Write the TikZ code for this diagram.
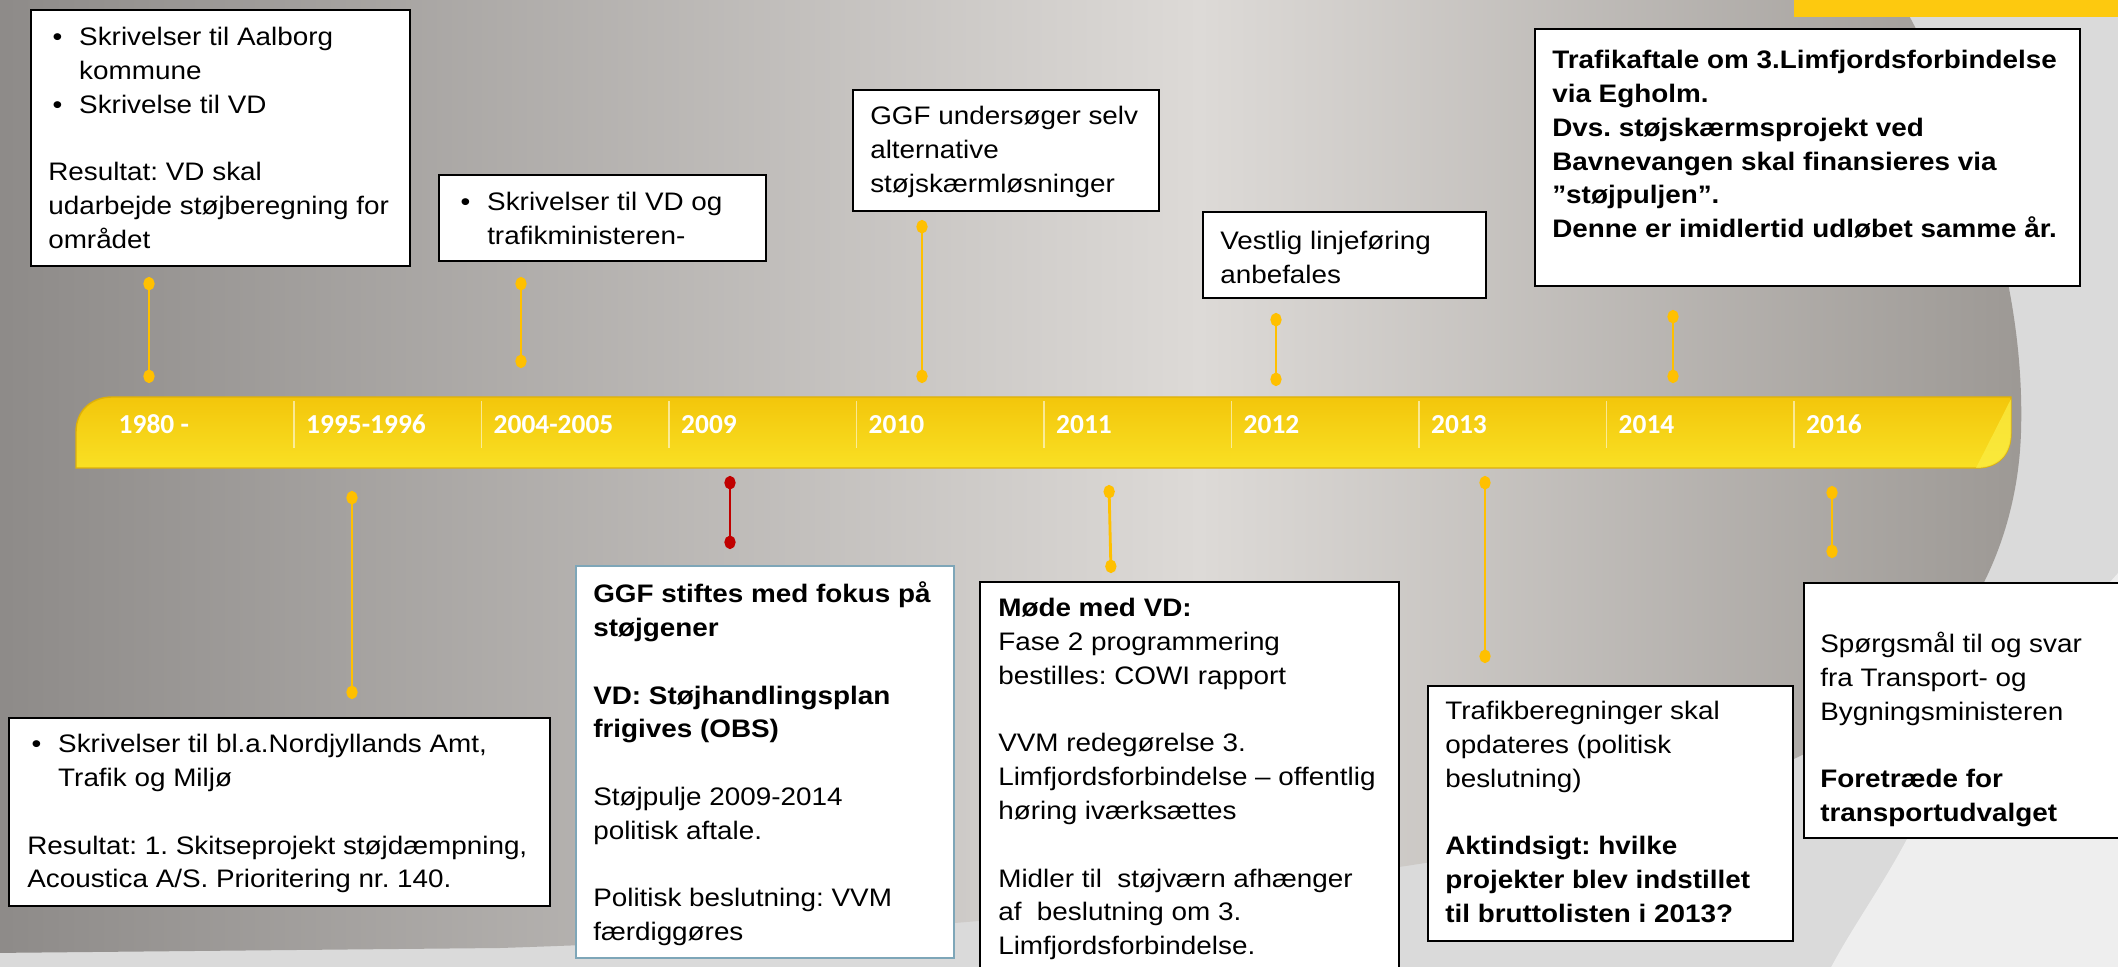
\documentclass[tikz,border=0pt]{standalone}
\usepackage{fontspec}
\setmainfont{Liberation Sans}
\newfontfamily\cardfont{Liberation Sans}[FakeStretch=1.1]
\newfontfamily\yearfont{Carlito}
\usetikzlibrary{arrows.meta,fit}
\frenchspacing

\definecolor{bgout}{HTML}{DADADA}
\definecolor{bglight}{HTML}{EEEEEE}
\definecolor{bgdark}{HTML}{8D8A88}
\definecolor{bgmid}{HTML}{DDDAD7}
\definecolor{bgedge}{HTML}{9C9894}
\definecolor{topgold}{HTML}{FDC90F}
\definecolor{bartop}{HTML}{F3C60B}
\definecolor{barbot}{HTML}{F9E024}
\definecolor{baredge}{HTML}{DDB00A}
\definecolor{barlight}{HTML}{FBEE45}
\definecolor{stemgold}{HTML}{FFC000}
\definecolor{stemred}{HTML}{C00000}
\definecolor{cardblue}{HTML}{7EA6B8}

\newcommand\bulpt{\makebox[8.8pt][l]{\hspace{1.2pt}•}}
\newcommand\bulind{\hspace*{8.8pt}}

\tikzset{
  card/.style={draw=black, line width=0.8pt, fill=white, inner sep=0pt},
  bluecard/.style={card, draw=cardblue},
  cardtext/.style={anchor=north west, inner sep=0pt, align=left,
    font=\cardfont\fontsize{7.2}{9.6}\selectfont},
  boldtext/.style={cardtext, font=\cardfont\fontsize{7.2}{9.6}\selectfont\bfseries},
  stem/.style={draw=stemgold, line width=0.8pt,
    {Circle[length=3.8pt,width=3.2pt]}-{Circle[length=3.8pt,width=3.2pt]}},
  redstem/.style={stem, draw=stemred},
  yearlbl/.style={anchor=base west, inner sep=0pt, text=white,
    font=\yearfont\bfseries\fontsize{7.8}{9}\selectfont},
  sep/.style={draw=white, draw opacity=0.55, line width=0.4pt}
}

\begin{document}
\begin{tikzpicture}[x=0.01cm, y=-0.01cm]
    \useasboundingbox (0,0) rectangle (2118,967);

    % Baggrund
    \fill[bgout] (0,0) rectangle (2118,967);
    \fill[bglight] (2130,560) .. controls (2020,680) and (1940,780) .. (1907,839)
        .. controls (1880,890) and (1850,930) .. (1827,975) -- (2130,975) -- cycle;
    \begin{scope}
        \clip (-10,-10) -- (1895,-10) .. controls (1985,150) and (2025,300) .. (2021,432)
            .. controls (2017,560) and (1950,690) .. (1785,763)
            .. controls (1620,830) and (1480,855) .. (1399,867)
            .. controls (1200,905) and (900,935) .. (500,948) -- (-10,953) -- cycle;
        \shade[left color=bgdark, right color=bgmid] (-10,-10) rectangle (1200,980);
        \shade[left color=bgmid, right color=bgedge] (1199,-10) rectangle (2030,980);
    \end{scope}
    \fill[topgold] (1794,0) rectangle (2118,17);

    % Tidslinje
    \shadedraw[top color=bartop, bottom color=barbot, draw=baredge, line width=0.4pt]
        (76,468) -- (76,432) .. controls (76,410) and (92,397) .. (112,397) -- (2011,397)
        -- (2011,433) .. controls (2011,455) and (1998,468) .. (1976,468) -- cycle;
    \fill[barlight, opacity=0.7] (2011,399) -- (2011,433) .. controls (2011,455) and (1998,468)
        .. (1976,468) -- cycle;
    \foreach \k in {0,...,8}
        \draw[sep] ({294+187.5*\k},401) -- ({294+187.5*\k},448);
    \foreach \yr [count=\i from 0] in {1980 -,1995-1996,2004-2005,2009,2010,2011,2012,2013,2014,2016}
        \node[yearlbl] (yr\i) at ({118+187.5*\i},434) {\yr};

    % Stilke
    \foreach \n/\xa/\ya/\xb/\yb in {1980/149/277/149/383, 2004/521/277/521/368,
        2010/922/220/922/383, 2012/1276/313/1276/386, 2014/1673/310/1673/383,
        1995/352/491/352/699, 2011/1109/485/1111/573, 2013/1485/476/1485/663,
        2016/1832/486/1832/558} {
        \coordinate (s\n a) at (\xa,\ya);
        \coordinate (s\n b) at (\xb,\yb);
        \draw[stem] (s\n a) -- (s\n b);
    }
    \coordinate (s2009a) at (730,476);
    \coordinate (s2009b) at (730,549);
    \draw[redstem] (s2009a) -- (s2009b);

    % Bokse over linjen
    \node[card, fit={(31,10) (410,266)}] (c1980) {};
    \node[cardtext] (t1980) at ([shift={(18,13)}]c1980.north west) {
        \strut\bulpt Skrivelser til Aalborg\\
        \bulind kommune\\
        \bulpt Skrivelse til VD\\[9.6pt]
        Resultat: VD skal\\
        udarbejde støjberegning for\\
        området
    };

    \node[card, fit={(439,175) (766,261)}] (c2004) {};
    \node[cardtext] (t2004) at ([shift={(18,12.5)}]c2004.north west) {
        \strut\bulpt Skrivelser til VD og\\
        \bulind trafikministeren-
    };

    \node[card, fit={(853,90) (1159,211)}] (c2010) {};
    \node[cardtext] (t2010) at ([shift={(18,12)}]c2010.north west) {
        \strut GGF undersøger selv\\
        alternative\\
        støjskærmløsninger
    };

    \node[card, fit={(1203,212) (1486,298)}] (c2012) {};
    \node[cardtext] (t2012) at ([shift={(18,15)}]c2012.north west) {
        \strut Vestlig linjeføring\\
        anbefales
    };

    \node[card, fit={(1535,29) (2080,286)}] (c2014) {};
    \node[boldtext] (t2014) at ([shift={(18,17)}]c2014.north west) {
        \strut Trafikaftale om 3.Limfjordsforbindelse\\
        via Egholm.\\
        Dvs. støjskærmsprojekt ved\\
        Bavnevangen skal finansieres via\\
        ”støjpuljen”.\\
        Denne er imidlertid udløbet samme år.
    };

    % Bokse under linjen
    \node[card, fit={(9,718) (550,906)}] (c1995) {};
    \node[cardtext] (t1995) at ([shift={(19,12)}]c1995.north west) {
        \strut\bulpt Skrivelser til bl.a.Nordjyllands Amt,\\
        \bulind Trafik og Miljø\\[9.6pt]
        Resultat: 1. Skitseprojekt støjdæmpning,\\
        Acoustica A/S. Prioritering nr. 140.
    };

    \node[bluecard, fit={(576,566) (954,958)}] (c2009) {};
    \node[cardtext] (t2009) at ([shift={(18,14)}]c2009.north west) {
        \strut\textbf{GGF stiftes med fokus på}\\
        \textbf{støjgener}\\[9.6pt]
        \textbf{VD: Støjhandlingsplan}\\
        \textbf{frigives (OBS)}\\[9.6pt]
        Støjpulje 2009-2014\\
        politisk aftale.\\[9.6pt]
        Politisk beslutning: VVM\\
        færdiggøres
    };

    \node[card, fit={(980,582) (1399,990)}] (c2011) {};
    \node[cardtext] (t2011) at ([shift={(19,12)}]c2011.north west) {
        \strut\textbf{Møde med VD:}\\
        Fase 2 programmering\\
        bestilles: COWI rapport\\[9.6pt]
        VVM redegørelse 3.\\
        Limfjordsforbindelse – offentlig\\
        høring iværksættes\\[9.6pt]
        Midler til\ \ støjværn afhænger\\
        af\ \ beslutning om 3.\\
        Limfjordsforbindelse.
    };

    \node[card, fit={(1428,686) (1793,941)}] (c2013) {};
    \node[cardtext] (t2013) at ([shift={(18,11)}]c2013.north west) {
        \strut Trafikberegninger skal\\
        opdateres (politisk\\
        beslutning)\\[9.6pt]
        \textbf{Aktindsigt: hvilke}\\
        \textbf{projekter blev indstillet}\\
        \textbf{til bruttolisten i 2013?}
    };

    \node[card, fit={(1804,583) (2130,838)}] (c2016) {};
    \node[cardtext] (t2016) at ([shift={(17,47)}]c2016.north west) {
        \strut Spørgsmål til og svar\\
        fra Transport- og\\
        Bygningsministeren\\[9.6pt]
        \textbf{Foretræde for}\\
        \textbf{transportudvalget}
    };
\end{tikzpicture}
\end{document}
